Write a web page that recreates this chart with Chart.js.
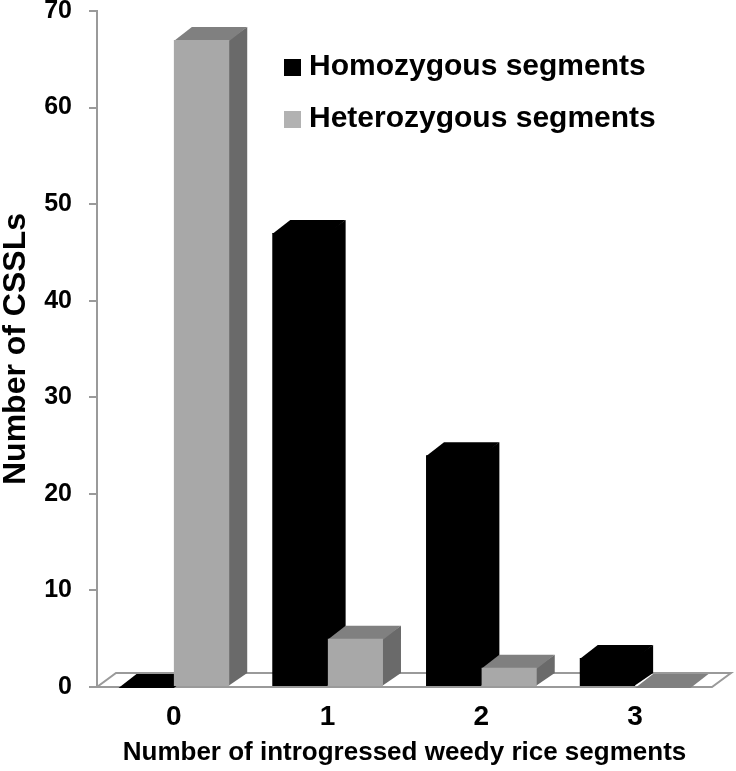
<!DOCTYPE html>
<html>
<head>
<meta charset="utf-8">
<script src="https://cdn.jsdelivr.net/npm/chart.js@4/dist/chart.umd.min.js"></script>
<style>
  html, body { margin: 0; padding: 0; background: #fff; }
  #wrap { width: 736px; height: 771px; }
</style>
</head>
<body>
<div id="wrap"><canvas id="chart"></canvas></div>
<script>
// Datos del gráfico
const categorias = ['0', '1', '2', '3'];
const homocigotos = [0, 47, 24, 3];
const heterocigotos = [67, 5, 2, 0];

const FUENTE = "'Liberation Sans', Arial, Helvetica, sans-serif";

// Profundidad de las barras y del piso (efecto 3D)
const BAR_DX = 18, BAR_DY = -13;
const PISO_DX = 19, PISO_DY = -14;

// Dibuja el piso y las caras superior y lateral de cada barra
const profundidad = {
    id: 'profundidad',
    beforeDatasetsDraw(chart) {
        const ctx = chart.ctx;
        const area = chart.chartArea;
        ctx.save();
        ctx.beginPath();
        ctx.moveTo(area.left, area.bottom);
        ctx.lineTo(area.right, area.bottom);
        ctx.lineTo(area.right + PISO_DX, area.bottom + PISO_DY);
        ctx.lineTo(area.left + PISO_DX, area.bottom + PISO_DY);
        ctx.closePath();
        ctx.fillStyle = '#ffffff';
        ctx.fill();
        ctx.strokeStyle = '#9a9a9a';
        ctx.lineWidth = 2;
        ctx.stroke();

        chart.data.datasets.forEach(function(ds, i) {
            chart.getDatasetMeta(i).data.forEach(function(bar) {
                const p = bar.getProps(['x', 'y', 'base', 'width'], true);
                const l = p.x - p.width / 2, r = p.x + p.width / 2;
                if (p.base - p.y > 0.5) {
                    ctx.beginPath();
                    ctx.moveTo(r - 1, p.y);
                    ctx.lineTo(r + BAR_DX, p.y + BAR_DY);
                    ctx.lineTo(r + BAR_DX, p.base + BAR_DY);
                    ctx.lineTo(r - 1, p.base);
                    ctx.closePath();
                    ctx.fillStyle = ds.sideColor;
                    ctx.fill();
                }
                ctx.beginPath();
                ctx.moveTo(l, p.y + 1);
                ctx.lineTo(r, p.y + 1);
                ctx.lineTo(r + BAR_DX, p.y + BAR_DY);
                ctx.lineTo(l + BAR_DX, p.y + BAR_DY);
                ctx.closePath();
                ctx.fillStyle = ds.topColor;
                ctx.fill();
            });
        });
        ctx.restore();
    }
};

// Leyenda dentro del área del gráfico
const leyenda = {
    id: 'leyenda',
    afterDraw(chart) {
        const ctx = chart.ctx;
        ctx.save();
        ctx.font = 'bold 30px ' + FUENTE;
        ctx.textBaseline = 'middle';
        ctx.textAlign = 'left';
        chart.data.datasets.forEach(function(ds, i) {
            const y = 67 + i * 52;
            ctx.fillStyle = ds.legendColor;
            ctx.fillRect(284, y - 8, 17, 17);
            ctx.fillStyle = '#000';
            ctx.fillText(ds.label, 309, y);
        });
        ctx.restore();
    }
};

var ctx = document.getElementById('chart').getContext('2d');
var grafico = new Chart(ctx, {
    type: 'bar',
    data: {
        labels: categorias,
        datasets: [
            {
                label: 'Homozygous segments',
                data: homocigotos,
                backgroundColor: '#000000',
                topColor: '#000000',
                sideColor: '#000000',
                legendColor: '#000000',
                categoryPercentage: 0.72,
                barPercentage: 1.0
            },
            {
                label: 'Heterozygous segments',
                data: heterocigotos,
                backgroundColor: '#a8a8a8',
                topColor: '#808080',
                sideColor: '#6a6a6a',
                legendColor: '#b2b2b2',
                categoryPercentage: 0.72,
                barPercentage: 1.0
            }
        ]
    },
    options: {
        responsive: true,
        maintainAspectRatio: false,
        animation: false,
        layout: {
            autoPadding: false,
            padding: { top: 11, right: 24, bottom: 0, left: 0 }
        },
        plugins: {
            legend: { display: false },
            tooltip: { enabled: false }
        },
        scales: {
            x: {
                grid: { display: false, drawTicks: false },
                border: { display: false },
                ticks: {
                    color: '#000',
                    padding: 13,
                    font: { family: FUENTE, size: 28, weight: 'bold' }
                },
                title: {
                    display: true,
                    text: 'Number of introgressed weedy rice segments',
                    color: '#000',
                    padding: { top: 0, bottom: 3 },
                    font: { family: FUENTE, size: 26, weight: 'bold' }
                },
                afterFit: function(s) { s.height = 84; }
            },
            y: {
                min: 0,
                max: 70,
                ticks: {
                    stepSize: 10,
                    color: '#000',
                    padding: 17,
                    font: { family: FUENTE, size: 25, weight: 'bold' }
                },
                grid: {
                    drawOnChartArea: false,
                    tickLength: 8,
                    tickColor: '#9a9a9a',
                    lineWidth: 2
                },
                border: { color: '#9a9a9a', width: 2 },
                title: {
                    display: true,
                    text: 'Number of CSSLs',
                    color: '#000',
                    padding: 0,
                    font: { family: FUENTE, size: 32, weight: 'bold', lineHeight: 1 }
                },
                afterFit: function(s) {
                    s.width = 97;
                    s.paddingTop = 0;
                    s.paddingBottom = 0;
                }
            }
        }
    },
    plugins: [profundidad, leyenda]
});
</script>
</body>
</html>
